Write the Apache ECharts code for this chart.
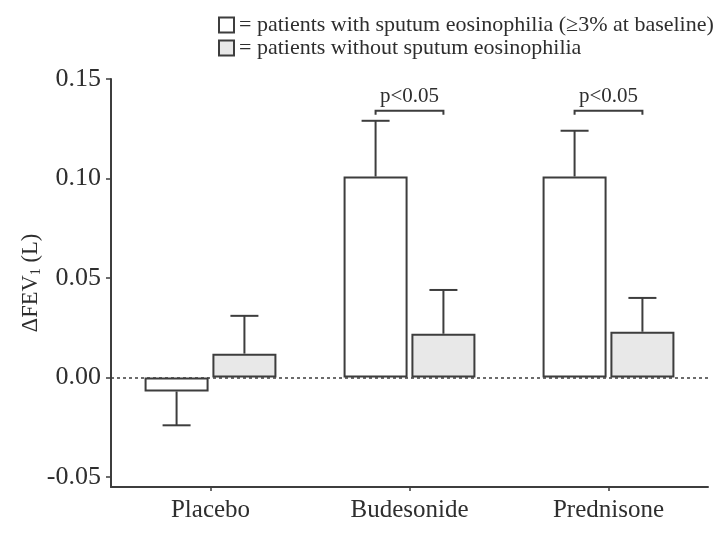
<!DOCTYPE html>
<html>
<head>
<meta charset="utf-8">
<script src="https://cdn.jsdelivr.net/npm/echarts@6/dist/echarts.min.js"></script>
<style>
  html, body { margin: 0; padding: 0; background: #ffffff; }
  #chart { width: 716px; height: 537px; }
</style>
</head>
<body>
<div id="chart"></div>
<script>
// Treatment groups and change in FEV1 (litres)
const categories = ['Placebo', 'Budesonide', 'Prednisone'];
const seriesNames = [
  'patients with sputum eosinophilia (\u22653% at baseline)',
  'patients without sputum eosinophilia'
];
const withEos = [-0.007, 0.101, 0.101];
const withEosErrEnd = [-0.024, 0.129, 0.124];
const withoutEos = [0.012, 0.022, 0.023];
const withoutEosErrEnd = [0.031, 0.044, 0.040];
const sigLevel = [null, 0.134, 0.134];
const sigLabel = ['', 'p<0.05', 'p<0.05'];
const yTickValues = [-0.05, 0, 0.05, 0.10, 0.15];
const yRange = { min: -0.055, max: 0.15 };

const FONT = 'Liberation Serif';
const INK = '#3d3d3d';
const TEXT = '#2e2e2e';
const BAR_W = 64;
const GAP_PCT = 6;
const HALF_SHIFT = (BAR_W + BAR_W * GAP_PCT / 100) / 2;

// error bar drawn from the bar top to the end value, shifted onto its bar
function errorRenderer(shift) {
  return function (params, api) {
    const idx = api.value(0);
    const top = api.coord([idx, api.value(1)]);
    const end = api.coord([idx, api.value(2)]);
    const x = top[0] + shift;
    const cap = 14;
    return {
      type: 'group',
      children: [
        { type: 'line', shape: { x1: x, y1: top[1], x2: x, y2: end[1] },
          style: { stroke: INK, lineWidth: 2 } },
        { type: 'line', shape: { x1: x - cap, y1: end[1], x2: x + cap, y2: end[1] },
          style: { stroke: INK, lineWidth: 2 } }
      ]
    };
  };
}

const chart = echarts.init(document.getElementById('chart'), null, { renderer: 'canvas' });

chart.setOption({
  backgroundColor: '#ffffff',
  animation: false,
  textStyle: { fontFamily: FONT },
  grid: { left: 111, right: 8, top: 79, bottom: 50, containLabel: false },
  legend: {
    data: seriesNames,
    orient: 'vertical',
    left: 218,
    top: 14,
    padding: 0,
    itemWidth: 15,
    itemHeight: 15,
    itemGap: 1,
    icon: 'rect',
    formatter: name => '= ' + name,
    textStyle: { fontFamily: FONT, fontSize: 22, lineHeight: 21, color: TEXT },
    selectedMode: false
  },
  xAxis: {
    type: 'category',
    data: categories,
    axisLine: { show: true, onZero: false, lineStyle: { color: INK, width: 2 } },
    axisTick: { show: true, alignWithLabel: true, length: 4, lineStyle: { color: INK, width: 1.5 } },
    axisLabel: { fontFamily: FONT, fontSize: 25, color: TEXT, margin: 11 },
    splitLine: { show: false }
  },
  yAxis: {
    type: 'value',
    min: yRange.min,
    max: yRange.max,
    axisLine: { show: true, lineStyle: { color: INK, width: 2 } },
    axisTick: { show: true, length: 5, customValues: yTickValues, lineStyle: { color: INK, width: 1.5 } },
    axisLabel: {
      fontFamily: FONT, fontSize: 26, color: TEXT, margin: 10,
      customValues: yTickValues,
      formatter: v => v.toFixed(2)
    },
    splitLine: { show: false },
    name: '{a|\u0394FEV}{s|1}{a| (L)}',
    nameLocation: 'middle',
    nameRotate: 90,
    nameGap: 68,
    nameMoveOverlap: false,
    nameTextStyle: {
      rich: {
        a: { fontFamily: FONT, fontSize: 22.5, color: TEXT },
        s: { fontFamily: FONT, fontSize: 14, color: TEXT, padding: [10, 0, 0, 0] }
      }
    }
  },
  series: [
    {
      name: seriesNames[0],
      type: 'bar',
      data: withEos,
      barWidth: BAR_W,
      barGap: GAP_PCT + '%',
      itemStyle: { color: '#ffffff', borderColor: INK, borderWidth: 2 },
      z: 3,
      markLine: {
        silent: true,
        symbol: 'none',
        label: { show: false },
        lineStyle: { color: INK, width: 1.5, type: [3, 3] },
        data: [{ yAxis: 0 }],
        z: 1
      }
    },
    {
      name: seriesNames[1],
      type: 'bar',
      data: withoutEos,
      barWidth: BAR_W,
      itemStyle: { color: '#e8e8e8', borderColor: INK, borderWidth: 2 },
      z: 3
    },
    {
      type: 'custom',
      renderItem: errorRenderer(-HALF_SHIFT),
      data: categories.map((c, i) => [i, withEos[i], withEosErrEnd[i]]),
      z: 2,
      silent: true
    },
    {
      type: 'custom',
      renderItem: errorRenderer(HALF_SHIFT),
      data: categories.map((c, i) => [i, withoutEos[i], withoutEosErrEnd[i]]),
      z: 2,
      silent: true
    },
    {
      // significance brackets between the paired bars
      type: 'custom',
      silent: true,
      z: 4,
      data: categories.map((c, i) => [i, sigLevel[i], sigLabel[i]]).filter(d => d[1] !== null),
      renderItem: function (params, api) {
        const idx = api.value(0);
        const p = api.coord([idx, api.value(1)]);
        const x1 = p[0] - HALF_SHIFT;
        const x2 = p[0] + HALF_SHIFT;
        const y = p[1];
        return {
          type: 'group',
          children: [
            { type: 'polyline', shape: { points: [[x1, y + 4], [x1, y], [x2, y], [x2, y + 4]] },
              style: { stroke: INK, lineWidth: 2, fill: null } },
            { type: 'text', x: p[0], y: y - 4,
              style: { text: sigLabel[idx], fontFamily: FONT, fontSize: 21, fill: TEXT,
                       align: 'center', verticalAlign: 'bottom' } }
          ]
        };
      }
    }
  ]
});
</script>
</body>
</html>
